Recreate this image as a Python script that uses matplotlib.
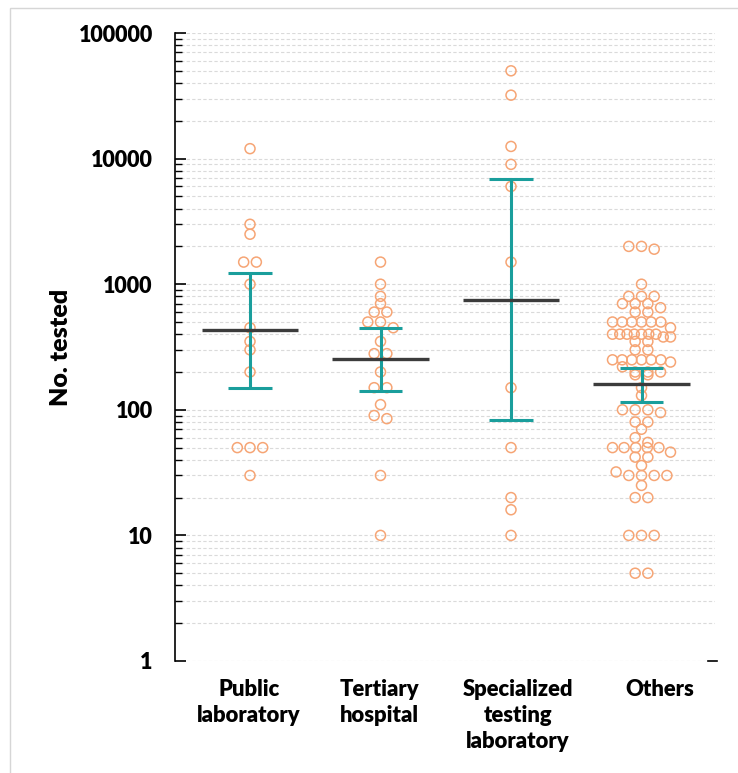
import numpy as np
import matplotlib
matplotlib.use("Agg")
import matplotlib.pyplot as plt
import matplotlib.ticker as mticker
import matplotlib.transforms as mtransforms
from matplotlib.patches import Rectangle

plt.rcParams['font.family'] = ['Lato', 'DejaVu Sans']

# Data
categories = ['Public\nlaboratory', 'Tertiary\nhospital',
              'Specialized\ntesting\nlaboratory', 'Others']
public_lab = [12000, 3000, 2500, 1500, 1500, 1000, 450, 350, 300, 200,
              50, 50, 50, 30]
tertiary_hospital = [1500, 1000, 800, 700, 600, 600, 500, 500, 450, 350,
                     280, 280, 200, 150, 150, 110, 90, 85, 30, 10]
specialized_lab = [50000, 32000, 12500, 9000, 6000, 1500, 150, 50, 20, 16, 10]
others = [2000, 2000, 1900, 1000, 800, 800, 800, 700, 700, 700,
          650, 600, 600, 500, 500, 500, 500, 500, 500, 450,
          400, 400, 400, 400, 400, 400, 400, 380, 380, 350, 350, 300, 300,
          250, 250, 250, 250, 250, 250, 240, 220, 200, 200, 200, 190, 190,
          150, 130, 100, 100, 100, 95, 80, 80, 70, 60, 55,
          50, 50, 50, 50, 50, 46, 42, 42, 36, 32,
          30, 30, 30, 30, 25, 20, 20, 10, 10, 10, 5, 5]
groups = [public_lab, tertiary_hospital, specialized_lab, others]

# geometric mean and its interval, as drawn
center_values = [432, 254, 753, 160]
upper_values = [1235, 448, 6840, 216]
lower_values = [150, 142, 83, 115]

y_ticks = [1, 10, 100, 1000, 10000, 100000]

orange = '#F6A575'
teal = '#1A9E9C'
dark = '#3C3C3C'


def swarm_x(values, center, ax, step_px=12.7, row_dy=5.9, max_width=58):
    """Prism-like scatter: points of about the same height go side by side, centred."""
    vals = np.asarray(values, dtype=float)
    pts = ax.transData.transform(np.column_stack([np.full(len(vals), center), vals]))
    y_px = pts[:, 1]
    order = np.argsort(-vals, kind='stable')
    rows, row, start = [], [], None
    for i in order:
        if start is None or start - y_px[i] < row_dy:
            if start is None:
                start = y_px[i]
            row.append(i)
        else:
            rows.append(row)
            row, start = [i], y_px[i]
    rows.append(row)
    x_px = pts[:, 0].copy()
    for row in rows:
        n = len(row)
        step = step_px if n < 2 else min(step_px, max_width / (n - 1))
        for j, i in enumerate(row):
            x_px[i] += (j - (n - 1) / 2) * step
    return ax.transData.inverted().transform(np.column_stack([x_px, y_px]))[:, 0]


fig = plt.figure(figsize=(7.38, 7.73), dpi=100)
ax = fig.add_axes([0.2371, 0.1449, 0.7317, 0.8124])
ax.set_yscale('log')
ax.set_ylim(1, 100000)
ax.set_xlim(-0.575, 3.563)

for i, vals in enumerate(groups):
    xs = swarm_x(vals, i, ax)
    ax.scatter(xs, vals, s=7.2 ** 2, facecolors='none', edgecolors=orange,
               linewidths=1.1, zorder=2)

pos = np.arange(len(categories))
ax.vlines(pos, lower_values, upper_values, color=teal, lw=2.2, zorder=3)
ax.hlines(upper_values, pos - 0.165, pos + 0.165, color=teal, lw=2.2, zorder=3)
ax.hlines(lower_values, pos - 0.165, pos + 0.165, color=teal, lw=2.2, zorder=3)
ax.hlines(center_values, pos - 0.37, pos + 0.37, color=dark, lw=2.4, zorder=4)

# axes styling
for side in ['top', 'right', 'bottom']:
    ax.spines[side].set_visible(False)
ax.spines['left'].set_linewidth(1.2)

ax.set_yticks(y_ticks, labels=[str(v) for v in y_ticks])
ax.yaxis.set_minor_locator(mticker.LogLocator(base=10, subs=np.arange(2, 10), numticks=20))
ax.yaxis.set_minor_formatter(mticker.NullFormatter())
ax.tick_params(axis='y', which='major', direction='in', length=8, width=1.2,
               pad=16, labelsize=15.5)
ax.tick_params(axis='y', which='minor', direction='in', length=5, width=1.0)
for lab in ax.get_yticklabels():
    lab.set_fontweight('heavy')

ax.yaxis.grid(True, which='both', color='#dadada', linestyle=(0, (3, 2)), lw=0.8)
ax.set_axisbelow(True)

ax.set_xticks(pos, labels=categories)
ax.tick_params(axis='x', length=0, pad=13, labelsize=15.8)
label_shift_px = [-1, -1, 7, 18]
for lab, dx in zip(ax.get_xticklabels(), label_shift_px):
    lab.set_fontweight('heavy')
    lab.set_linespacing(1.28)
    lab.set_verticalalignment('top')
    lab.set_transform(lab.get_transform() +
                      mtransforms.ScaledTranslation(dx / 100, 0, fig.dpi_scale_trans))

ax.set_ylabel('No. tested', fontsize=18, fontweight='heavy', labelpad=5)

# small dash at the right end of the baseline
ax.plot([0.988, 1.003], [0, 0], transform=ax.transAxes, color='black',
        lw=1.2, clip_on=False)

# light frame around the figure
fig.patches.append(Rectangle((10 / 738, -0.01), 1.0, 1.01 - 8 / 773,
                             transform=fig.transFigure, fill=False,
                             edgecolor='#d6d6d6', lw=1.0))

fig.savefig('out.png', dpi=100)
